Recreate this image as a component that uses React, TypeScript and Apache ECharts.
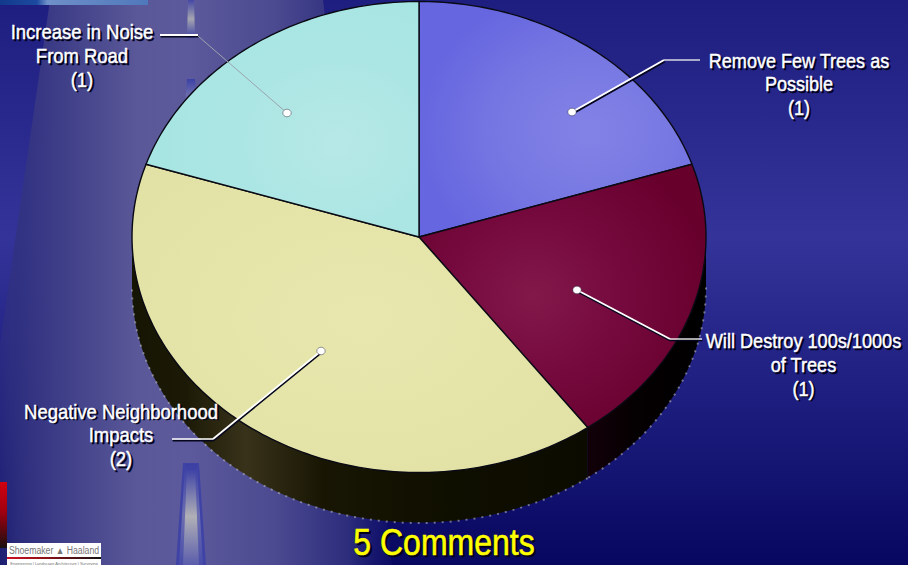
import React, { useEffect, useRef } from "react";
import * as echarts from "echarts";

const categories = ["Remove Few Trees as\nPossible", "Will Destroy 100s/1000s\nof Trees", "Negative Neighborhood\nImpacts", "Increase in Noise\nFrom Road"];
const commentCounts = [1, 1, 2, 1];
const titleText = "5 Comments";

const W = 908, H = 565;
const CX = 419, CY = 237, RX = 287, RY = 235.5, DEPTH = 50;
const total = commentCounts.reduce((a, b) => a + b, 0);

const pt = (deg: number, dy = 0): number[] => {
  const a = (deg * Math.PI) / 180;
  return [CX + RX * Math.sin(a), CY - RY * Math.cos(a) + dy];
};
const arc = (a0: number, a1: number, dy = 0): number[][] => {
  const out: number[][] = [];
  const n = Math.max(2, Math.ceil(Math.abs(a1 - a0)));
  for (let i = 0; i <= n; i++) out.push(pt(a0 + ((a1 - a0) * i) / n, dy));
  return out;
};
const span = (i: number): number[] => {
  const before = commentCounts.slice(0, i).reduce((a, b) => a + b, 0);
  return [(before / total) * 360, ((before + commentCounts[i]) / total) * 360];
};
const rad = (stops: string[], x = 0.5, y = 0.5, r = 0.6) =>
  new echarts.graphic.RadialGradient(x, y, r, stops.map((color, i) => ({ offset: i / (stops.length - 1), color })));
const lin = (stops: [number, string][], vertical = false) =>
  new echarts.graphic.LinearGradient(0, 0, vertical ? 0 : 1, vertical ? 1 : 0, stops.map(([offset, color]) => ({ offset, color })));

const faceFills = [
  rad(["#8282e6", "#7878e3", "#6666e0"], 0.62, 0.55, 0.62),
  rad(["#82184a", "#75093e", "#68002c"], 0.4, 0.5, 0.62),
  rad(["#e8e8ae", "#e5e5aa", "#e2e2a6"]),
  rad(["#b6e8e6", "#ace6e4", "#a6e5e3"], 0.7, 0.6, 0.7),
];
const wallFills: any[] = [
  "#000000",
  lin([[0, "#120008"], [0.4, "#050002"], [1, "#000000"]]),
  lin([[0, "#151503"], [0.12, "#1c1a06"], [0.25, "#38321a"], [0.42, "#181603"], [0.7, "#0f0f00"], [1, "#0c0b00"]]),
  "#000000",
];

const wallItem = (params: any) => {
  const [a0, a1] = span(params.dataIndex);
  const s = Math.max(a0, 90), e = Math.min(a1, 270);
  if (e <= s) return { type: "group", children: [] };
  const top = arc(s, e, 0);
  const bottom = arc(s, e, DEPTH);
  return {
    type: "group",
    children: [
      { type: "polygon", shape: { points: [...top, ...bottom.reverse()] }, style: { fill: wallFills[params.dataIndex], stroke: null } },
      { type: "polyline", shape: { points: arc(s, e, DEPTH + 0.5) }, style: { fill: null, stroke: "rgba(190,190,190,0.55)", lineWidth: 2, lineDash: [2, 6] } },
    ],
  };
};
const faceItem = (params: any) => {
  const [a0, a1] = span(params.dataIndex);
  return {
    type: "polygon",
    shape: { points: [[CX, CY], ...arc(a0, a1)] },
    style: { fill: faceFills[params.dataIndex], stroke: "#0a0a14", lineWidth: 1.4, lineJoin: "round" },
  };
};

const shadowed = (text: string, x: number, y: number, size: number, fill: string, sx: number, lh: number, off = 1.8, bold = 0.45) => [
  { type: "text", z: 10, x: x + off, y: y + off, scaleX: sx, silent: true, style: { text, fill: "#000018", stroke: "#000018", lineWidth: bold, font: `${size}px "Liberation Sans"`, lineHeight: lh, textAlign: "center", textVerticalAlign: "middle" } },
  { type: "text", z: 11, x, y, scaleX: sx, silent: true, style: { text, fill, stroke: fill, lineWidth: bold, font: `${size}px "Liberation Sans"`, lineHeight: lh, textAlign: "center", textVerticalAlign: "middle" } },
];
const leader = (points: number[][], stroke: string, width: number, shadow = true) => {
  const out: any[] = [];
  if (shadow) out.push({ type: "polyline", z: 10, shape: { points: points.map(([x, y]) => [x + 0.6, y + 1.6]) }, style: { fill: null, stroke: "#06061e", lineWidth: width } });
  out.push({ type: "polyline", z: 11, shape: { points }, style: { fill: null, stroke, lineWidth: width } });
  return out;
};
const dot = (x: number, y: number) => ({ type: "ellipse", z: 12, shape: { cx: x, cy: y, rx: 4.2, ry: 3.8 }, style: { fill: "#ffffff", stroke: "#30304a", lineWidth: 0.5 } });

const labelSpots = [
  { x: 799, y: 84.5, sx: 0.88 },
  { x: 803.5, y: 364.5, sx: 0.885 },
  { x: 121, y: 435, sx: 0.9 },
  { x: 82, y: 55.5, sx: 0.9 },
];

const graphics: any[] = [
  // backdrop
  { type: "rect", z: 0, shape: { x: 0, y: 0, width: W, height: H }, style: { fill: lin([[0, "#1e1e80"], [0.42, "#333399"], [0.7, "#1e1e80"], [1, "#070760"]], true) } },
  { type: "polygon", z: 0, shape: { points: [[50, 0], [323, 0], [392, 565], [-32, 565]] }, style: { fill: lin([[0, "rgba(40,40,125,0.1)"], [0.12, "rgba(50,50,128,0.85)"], [0.22, "#3e3e88"], [0.4, "#5a5898"], [0.52, "#5c5a9c"], [0.72, "#4c4a90"], [0.9, "#2c2c7c"], [1, "rgba(20,20,110,0.4)"]]) } },
  // road markings
  { type: "polygon", z: 0, shape: { points: [[188, 0], [194, 0], [195, 38], [187, 38]] }, style: { fill: lin([[0, "#4548a4"], [0.5, "#a5a5b0"], [1, "#3c40a4"]], true) } },
  { type: "polygon", z: 0, shape: { points: [[187, 79], [195, 79], [197, 105], [185, 105]] }, style: { fill: lin([[0, "#3c40a4"], [0.6, "#6a6cae"], [1, "#5c5a9c"]], true) } },
  { type: "polygon", z: 0, shape: { points: [[183, 463], [199, 463], [206, 565], [176, 565]] }, style: { fill: "#3f43a6" } },
  { type: "polygon", z: 0, shape: { points: [[185, 464], [197, 464], [203, 565], [179, 565]] }, style: { fill: lin([[0, "#3b3fa4"], [0.5, "#6c6eb0"], [1, "#484ca8"]], true) } },
  { type: "polygon", z: 0, shape: { points: [[187, 468], [195, 468], [199, 565], [183, 565]] }, style: { fill: lin([[0, "#3b3fa4"], [0.5, "#b0b0b6"], [1, "#5a5cac"]], true) } },
  // corner pictures
  { type: "rect", z: 0, shape: { x: 0, y: 0, width: 148, height: 5 }, style: { fill: lin([[0, "#123a8c"], [0.25, "#1c4aa0"], [0.32, "#6f90c8"], [1, "#4f78bc"]]) } },
  { type: "rect", z: 0, shape: { x: 0, y: 482, width: 7, height: 66 }, style: { fill: lin([[0, "#d00010"], [0.45, "#a00010"], [1, "#1a1010"]], true) } },
  { type: "rect", z: 0, shape: { x: 7, y: 543, width: 94, height: 22 }, style: { fill: "#ffffff" } },
  { type: "text", z: 1, x: 54, y: 551, scaleX: 0.87, silent: true, style: { text: "Shoemaker ▲ Haaland", fill: "#777777", font: '10px "Liberation Sans"', textAlign: "center", textVerticalAlign: "middle" } },
  { type: "rect", z: 1, shape: { x: 7, y: 557, width: 94, height: 2 }, style: { fill: lin([[0, "#d01020"], [0.4, "#901018"], [1, "#111111"]]) } },
  { type: "text", z: 1, x: 54, y: 563, silent: true, style: { text: "Engineering | Landscape Architecture | Surveying", fill: "#777777", font: '4px "Liberation Sans"', textAlign: "center", textVerticalAlign: "middle" } },
  // leaders
  ...leader([[572, 112], [664, 60]], "#ffffff", 2),
  ...leader([[664, 60], [700, 60]], "#d8d8e0", 1.5, false),
  ...leader([[577, 290], [670, 339]], "#ffffff", 1.8),
  ...leader([[670, 339], [702, 339]], "#f0f0f0", 1.4),
  ...leader([[321, 351], [213, 439]], "#ffffff", 1.8),
  ...leader([[213, 439], [172, 439]], "#ffffff", 1.6),
  ...leader([[160, 35], [198, 35]], "#ffffff", 2),
  ...leader([[198, 36], [287, 113]], "#9aa4ac", 1, false),
  dot(572, 112),
  dot(577, 290),
  dot(321, 351),
  dot(287, 113),
  // labels and title
  ...categories.flatMap((name, i) => shadowed(`${name}\n(${commentCounts[i]})`, labelSpots[i].x, labelSpots[i].y, 20.5, "#ffffff", labelSpots[i].sx, 23.7)),
  ...shadowed(titleText, 444, 542, 37, "#ffff00", 0.865, 37, 2, 0.6),
];

export default function App() {
  const ref = useRef<HTMLDivElement>(null);
  useEffect(() => {
    const chart = echarts.init(ref.current!, undefined, { renderer: "svg" });
    const data = categories.map((name, i) => ({ name, value: commentCounts[i] }));
    chart.setOption({
      animation: false,
      backgroundColor: "#1e1e80",
      graphic: { elements: graphics },
      series: [
        { type: "custom", coordinateSystem: "none", z: 2, silent: true, data, renderItem: wallItem },
        { type: "custom", coordinateSystem: "none", z: 3, silent: true, data, renderItem: faceItem },
      ],
    });
    return () => chart.dispose();
  }, []);
  return <div ref={ref} style={{ position: "absolute", left: 0, top: 0, width: W, height: H }} />;
}
